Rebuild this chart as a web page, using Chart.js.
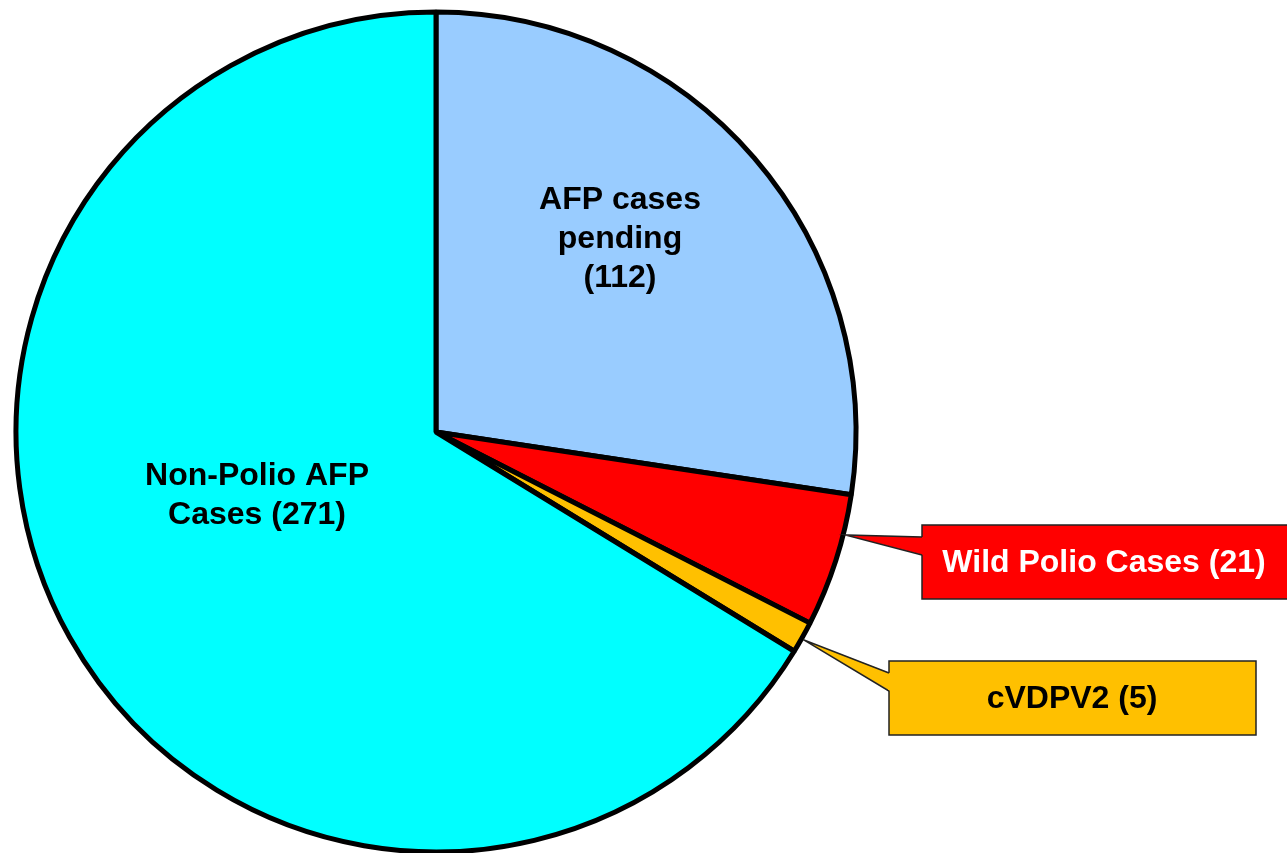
<!DOCTYPE html>
<html>
<head>
<meta charset="utf-8">
<script src="https://cdn.jsdelivr.net/npm/chart.js@4/dist/chart.umd.min.js"></script>
<style>
  html, body { margin: 0; padding: 0; background: #fff; }
  #wrap { width: 1287px; height: 853px; position: relative; }
</style>
</head>
<body>
<div id="wrap"><canvas id="pie"></canvas></div>
<script>
// slice data, clockwise from 12 o'clock
var categories = ["AFP cases pending", "Wild Polio Cases", "cVDPV2", "Non-Polio AFP Cases"];
var caseCounts = [112, 21, 5, 271];
var sliceColors = ["#99CCFF", "#FF0000", "#FFC000", "#00FFFF"];

var FONT = "bold 32px 'Liberation Sans', Arial, sans-serif";

// text written inside the two big slices
var insideLabels = [
    { index: 0, x: 620, y: 200, lines: ["AFP cases", "pending", "(" + caseCounts[0] + ")"] },
    { index: 3, x: 257, y: 476, lines: ["Non-Polio AFP", "Cases (" + caseCounts[3] + ")"] }
];

// callout boxes for the two thin slices
var callouts = [
    { index: 1, frac: 0.3, box: [922, 525, 372, 74], tail: [537, 555], text: "Wild Polio Cases (" + caseCounts[1] + ")", color: "#fff", textX: 1104 },
    { index: 2, frac: 0.55, box: [889, 661, 367, 74], tail: [673, 691], text: "cVDPV2 (" + caseCounts[2] + ")", color: "#000", textX: 1072 }
];

var labelPlugin = {
    id: "pieLabels",
    afterDraw: function(chart) {
        var ctx = chart.ctx;
        var arcs = chart.getDatasetMeta(0).data;
        ctx.save();
        ctx.font = FONT;
        ctx.textAlign = "center";
        ctx.textBaseline = "middle";

        insideLabels.forEach(function(lab) {
            ctx.fillStyle = "#000";
            lab.lines.forEach(function(line, i) {
                ctx.fillText(line, lab.x, lab.y + i * 39);
            });
        });

        callouts.forEach(function(c) {
            var arc = arcs[c.index];
            var a = arc.startAngle + c.frac * (arc.endAngle - arc.startAngle);
            var r = arc.outerRadius + 2;
            var tipX = arc.x + Math.cos(a) * r;
            var tipY = arc.y + Math.sin(a) * r;
            var bx = c.box[0], by = c.box[1], bw = c.box[2], bh = c.box[3];

            // box
            ctx.fillStyle = sliceColors[c.index];
            ctx.fillRect(bx, by, bw, bh);
            ctx.lineWidth = 1.5;
            ctx.strokeStyle = "#222";
            ctx.strokeRect(bx, by, bw, bh);

            // tail
            ctx.beginPath();
            ctx.moveTo(bx + 1, c.tail[0]);
            ctx.lineTo(tipX, tipY);
            ctx.lineTo(bx + 1, c.tail[1]);
            ctx.closePath();
            ctx.fill();
            ctx.beginPath();
            ctx.moveTo(bx, c.tail[0]);
            ctx.lineTo(tipX, tipY);
            ctx.lineTo(bx, c.tail[1]);
            ctx.stroke();
            // cover the box border where the tail joins
            ctx.fillRect(bx - 1, c.tail[0] + 1, 3, c.tail[1] - c.tail[0] - 2);

            ctx.fillStyle = c.color;
            ctx.fillText(c.text, c.textX, by + bh / 2 + 1);
        });
        ctx.restore();
    }
};

new Chart(document.getElementById("pie"), {
    type: "pie",
    data: {
        labels: categories,
        datasets: [{
            data: caseCounts,
            backgroundColor: sliceColors,
            borderColor: "#000",
            borderWidth: 5,
            radius: 420
        }]
    },
    options: {
        responsive: true,
        maintainAspectRatio: false,
        animation: false,
        layout: { padding: { left: 0, right: 415, top: 11, bottom: 0 } },
        plugins: {
            legend: { display: false },
            tooltip: { enabled: false }
        }
    },
    plugins: [labelPlugin]
});
</script>
</body>
</html>
